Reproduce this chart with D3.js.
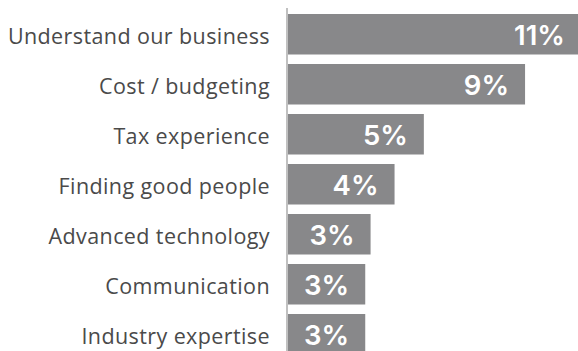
<!DOCTYPE html>
<html>
<head>
<meta charset="utf-8">
<script src="https://cdn.jsdelivr.net/npm/d3@7"></script>
<style>
  html, body { margin: 0; padding: 0; background: #ffffff; }
  svg { display: block; }
</style>
</head>
<body>
<div id="chart"></div>
<script>
// Share of respondents naming each quality (percent)
const categories = [
  "Understand our business",
  "Cost / budgeting",
  "Tax experience",
  "Finding good people",
  "Advanced technology",
  "Communication",
  "Industry expertise"
];
const values = [11.0, 8.9, 5.1, 4.0, 3.1, 2.9, 2.9];

const width = 578, height = 351;
const axisX = 288;

const svg = d3.select("#chart").append("svg")
  .attr("width", width)
  .attr("height", height);

const data = categories.map((c, i) => ({ category: c, value: values[i] }));

const x = d3.scaleLinear()
  .domain([0, 11])
  .range([axisX, 581]);

const y = d3.scaleBand()
  .domain(categories)
  .range([9.25, 359.25])
  .paddingInner(0.19)
  .paddingOuter(0.095);

const fmt = v => d3.format(".0f")(v) + "%";

// bars
svg.append("g")
  .selectAll("rect")
  .data(data)
  .join("rect")
  .attr("x", x(0))
  .attr("y", d => y(d.category))
  .attr("width", d => x(d.value) - x(0))
  .attr("height", y.bandwidth())
  .attr("fill", "#88888a");

// value labels inside bars
svg.append("g")
  .selectAll("text")
  .data(data)
  .join("text")
  .attr("x", d => x(d.value) - 16)
  .attr("y", d => y(d.category) + y.bandwidth() / 2 + 10.5)
  .attr("text-anchor", "end")
  .attr("fill", "#ffffff")
  .style("font-family", "Inter, sans-serif")
  .style("font-weight", 600)
  .style("font-size", "27.5px")
  .text(d => fmt(d.value));

// category axis on the left
const yAxis = d3.axisLeft(y).tickSize(0).tickPadding(17);
const gAxis = svg.append("g")
  .attr("transform", `translate(${axisX - 1},0)`)
  .call(yAxis);

gAxis.select(".domain").remove();
gAxis.append("line")
  .attr("x1", 0).attr("x2", 0)
  .attr("y1", 8).attr("y2", height)
  .attr("stroke", "#c0c0c0")
  .attr("stroke-width", 2);

gAxis.selectAll(".tick text")
  .attr("dy", null)
  .attr("y", 10)
  .attr("fill", "#4a4a4a")
  .style("font-family", "'Open Sans', sans-serif")
  .style("font-size", "21.5px")
  .style("letter-spacing", "0.4px");
</script>
</body>
</html>
